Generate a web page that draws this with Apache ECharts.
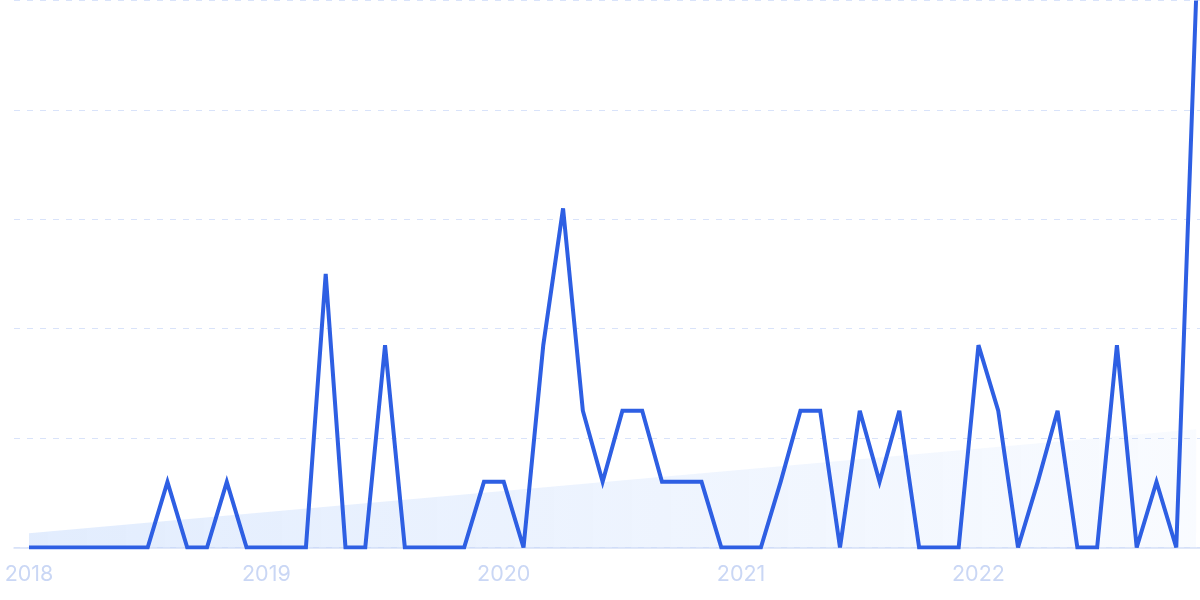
<!DOCTYPE html>
<html>
<head>
<meta charset="utf-8">
<script src="https://cdn.jsdelivr.net/npm/echarts@6/dist/echarts.min.js"></script>
<style>html,body{margin:0;padding:0;background:#fff;}#c{width:1200px;height:600px;}</style>
</head>
<body>
<div id="c"></div>
<script>
const years = ['2018','2019','2020','2021','2022'];
const months = [];
for (const y of years) for (let m = 1; m <= 12; m++) months.push(y + '-' + String(m).padStart(2,'0'));
const values = [0,0,0,0,0,0,0,12,0,0,12,0,
                0,0,0,50,0,0,37,0,0,0,0,12,
                12,0,37,62,25,12,25,25,12,12,12,0,
                0,0,12,25,25,0,25,12,25,0,0,0,
                37,25,0,12,25,0,0,37,0,12,0,100];
const trendStart = 2.6;
const trendEnd = 21.6;
const yearTicks = [0,12,24,36,48];

const chart = echarts.init(document.getElementById('c'), null, {renderer:'canvas'});
chart.setOption({
  animation:false,
  grid:{left:14, right:0, top:0.5, bottom:52.5},
  xAxis:{
    type:'value', min:-0.758, max:59.2,
    axisLine:{show:true, lineStyle:{color:'#d6e1f8', width:1.5}},
    axisTick:{show:false},
    splitLine:{show:false},
    axisLabel:{customValues:yearTicks, formatter:v=>months[Math.round(v)].slice(0,4),
      color:'#cad7f5', fontSize:21.5, fontFamily:'Inter, sans-serif', margin:16}
  },
  yAxis:{
    type:'value', min:0, max:100, interval:20,
    axisLine:{show:false}, axisTick:{show:false}, axisLabel:{show:false},
    splitLine:{show:true, lineStyle:{color:'#d9e3fa', type:[6,7], width:1}}
  },
  series:[
    {type:'line', data:[[0,trendStart],[values.length-1,trendEnd]], symbol:'none', silent:true,
     lineStyle:{opacity:0}, z:1,
     areaStyle:{opacity:1, color:new echarts.graphic.LinearGradient(0,0,1,0,[
       {offset:0,color:'rgba(59,130,246,0.15)'},{offset:1,color:'rgba(59,130,246,0.03)'}])}},
    {type:'line', data:values.map((v,i)=>[i,v]), symbol:'none', z:3,
     lineStyle:{color:'#2e5fe3', width:4, join:'miter', miterLimit:4}}
  ]
});
</script>
</body>
</html>
